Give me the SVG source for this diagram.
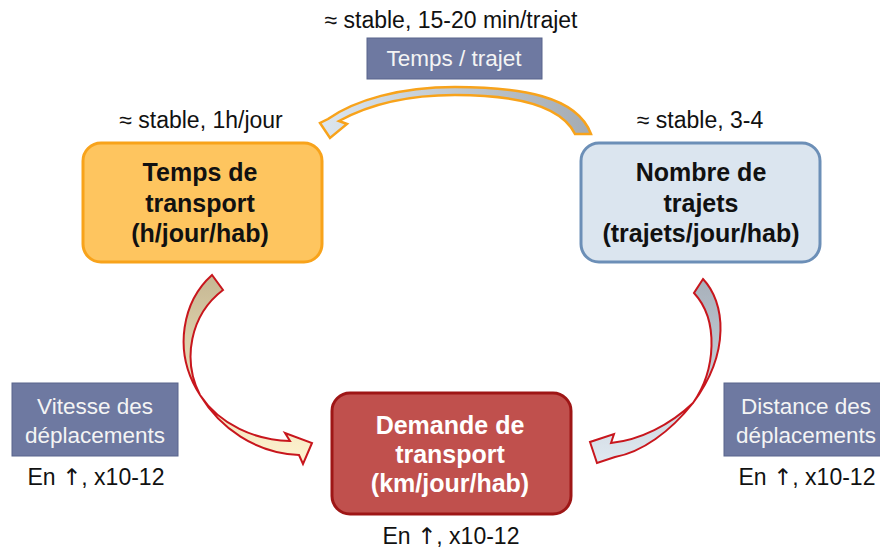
<svg xmlns="http://www.w3.org/2000/svg" width="880" height="549" viewBox="0 0 880 549">
<defs>
<linearGradient id="gTop" x1="0" y1="0" x2="1" y2="0">
<stop offset="0" stop-color="#dce6ef"/><stop offset="1" stop-color="#a4abb3"/>
</linearGradient>
<linearGradient id="gLeft" x1="0" y1="0" x2="0" y2="1">
<stop offset="0" stop-color="#c5b793"/><stop offset="0.5" stop-color="#e6d9b3"/><stop offset="1" stop-color="#fff3cf"/>
</linearGradient>
<linearGradient id="gRight" x1="0" y1="0" x2="0" y2="1">
<stop offset="0" stop-color="#a7b0ba"/><stop offset="1" stop-color="#dfe8f0"/>
</linearGradient>
</defs>
<style>
text{font-family:"Liberation Sans",Arial,sans-serif;text-anchor:middle}
.lbl{font-size:23px;fill:#111}
.up{font-family:"DejaVu Sans",sans-serif;fill:#111}
.bold{font-size:25px;font-weight:bold}
.tag{fill:#6e79a1;stroke:#59648c;stroke-width:1}
.tagt{font-size:22.5px;fill:#f4f4f4}
.arrowR{stroke:#c8161d;stroke-width:2;stroke-linejoin:miter}
</style>
<rect width="880" height="549" fill="#ffffff"/>

<g id="connectors">
<path id="arrow-top" d="M591,134 C577,96 520,87 455,87 C400,87 355,100 328,119 L320,123 L330,138 L347,124 L339,121 C370,104 410,95 455,95 C510,95 560,103 575,134 Z" fill="url(#gTop)" stroke="#f8a31b" stroke-width="2.5" stroke-linejoin="miter"/>
<path id="arrow-left" class="arrowR" d="M212,275 C184,300 171,350 200,395 C220,428 255,453 299,455 L303,464 L312,443 L285,433 L290,441 C255,440 220,425 200,395 C182,360 190,315 223,290 Z" fill="url(#gLeft)"/>
<path id="arrow-right" class="arrowR" d="M703,279 C725,302 731,352 693,403 C670,432 642,452 615,457 L597,463 L590,442 L614,434 L611,443 C640,440 670,425 693,403 C716,370 719,320 694,293 Z" fill="url(#gRight)"/>
</g>

<g id="label-top">
<text class="lbl" x="451" y="28">≈ stable, 15-20 min/trajet</text>
</g>
<g id="tag-temps-trajet">
<rect class="tag" x="367" y="38" width="175" height="41"/>
<text class="tagt" x="454" y="66">Temps / trajet</text>
</g>
<g id="label-1h">
<text class="lbl" x="201" y="128">≈ stable, 1h/jour</text>
</g>
<g id="label-34">
<text class="lbl" x="700" y="128">≈ stable, 3-4</text>
</g>

<g id="node-temps-transport">
<rect x="83" y="143" width="239" height="119" rx="18" fill="#fec55f" stroke="#f8a31b" stroke-width="3"/>
<text class="bold" x="200" y="181" fill="#111">Temps de</text>
<text class="bold" x="200" y="212" fill="#111">transport</text>
<text class="bold" x="200" y="242" fill="#111">(h/jour/hab)</text>
</g>

<g id="node-nombre-trajets">
<rect x="581" y="143" width="239" height="119" rx="18" fill="#dbe5ef" stroke="#6c8fb7" stroke-width="3"/>
<text class="bold" x="701" y="181" fill="#111">Nombre de</text>
<text class="bold" x="701" y="212" fill="#111">trajets</text>
<text class="bold" x="701" y="242" fill="#111">(trajets/jour/hab)</text>
</g>

<g id="node-demande">
<rect x="332" y="393" width="239" height="121" rx="18" fill="#c0504d" stroke="#9e1616" stroke-width="3"/>
<text class="bold" x="450" y="434" fill="#ffffff">Demande de</text>
<text class="bold" x="450" y="463" fill="#ffffff">transport</text>
<text class="bold" x="450" y="492" fill="#ffffff">(km/jour/hab)</text>
</g>
<g id="label-demande">
<text class="lbl" x="451" y="544">En <tspan class="up">↑</tspan>, x10-12</text>
</g>

<g id="tag-vitesse">
<rect class="tag" x="12" y="383" width="166" height="73"/>
<text class="tagt" x="95" y="414">Vitesse des</text>
<text class="tagt" x="95" y="443">déplacements</text>
</g>
<g id="label-vitesse">
<text class="lbl" x="96" y="485">En <tspan class="up">↑</tspan>, x10-12</text>
</g>

<g id="tag-distance">
<rect class="tag" x="724" y="383" width="158" height="73"/>
<text class="tagt" x="806" y="414">Distance des</text>
<text class="tagt" x="806" y="443">déplacements</text>
</g>
<g id="label-distance">
<text class="lbl" x="807" y="485">En <tspan class="up">↑</tspan>, x10-12</text>
</g>
</svg>
